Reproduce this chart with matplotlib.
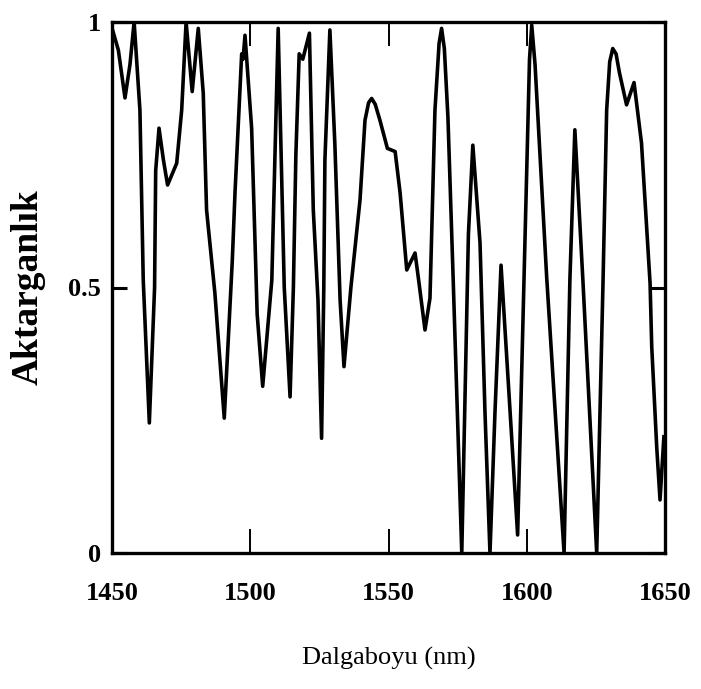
import matplotlib
matplotlib.use("Agg")
import matplotlib.pyplot as plt

# wavelength (nm) and transmittance
wavelength = [1450.2, 1452.3, 1454.7, 1456.5, 1458.0, 1460.1, 1461.3, 1463.5, 1465.4, 1465.8,
              1467.0, 1468.6, 1470.1, 1473.4, 1475.2, 1476.8, 1479.0, 1481.2, 1483.0, 1484.2,
              1487.2, 1490.6, 1493.5, 1494.5, 1496.9, 1497.4, 1498.1, 1500.5, 1502.5, 1504.5,
              1507.8, 1510.1, 1512.3, 1514.4, 1515.6, 1516.5, 1517.7, 1519.0, 1521.4, 1522.8,
              1524.5, 1525.8, 1526.6, 1527.0, 1528.8, 1530.6, 1532.5, 1533.9, 1536.4, 1539.7,
              1541.5, 1542.8, 1543.9, 1545.2, 1546.9, 1549.6, 1552.4, 1554.2, 1556.6, 1559.6,
              1561.0, 1563.2, 1565.0, 1566.8, 1568.3, 1569.2, 1570.2, 1571.5, 1573.4, 1576.5,
              1578.9, 1580.5, 1583.1, 1584.9, 1586.7, 1588.5, 1590.7, 1594.0, 1596.7, 1599.0,
              1601.0, 1601.8, 1603.0, 1607.2, 1613.5, 1615.6, 1617.4, 1620.3, 1625.3, 1627.6,
              1628.9, 1630.0, 1631.1, 1632.3, 1633.5, 1636.1, 1638.8, 1641.5, 1644.6, 1645.2,
              1647.0, 1648.2, 1649.6]
transmit = [0.985, 0.947, 0.857, 0.92, 1.0, 0.834, 0.514, 0.245, 0.5, 0.72,
            0.80, 0.74, 0.693, 0.734, 0.834, 1.0, 0.869, 0.988, 0.866, 0.646,
            0.49, 0.254, 0.55, 0.68, 0.94, 0.93, 0.975, 0.80, 0.45, 0.314,
            0.514, 0.988, 0.50, 0.294, 0.50, 0.75, 0.94, 0.93, 0.979, 0.646,
            0.476, 0.216, 0.50, 0.74, 0.985, 0.77, 0.476, 0.351, 0.50, 0.665,
            0.815, 0.848, 0.856, 0.845, 0.815, 0.762, 0.756, 0.678, 0.533, 0.565,
            0.51, 0.42, 0.48, 0.834, 0.96, 0.988, 0.95, 0.82, 0.514, 0.0,
            0.60, 0.768, 0.584, 0.264, 0.0, 0.264, 0.542, 0.264, 0.034, 0.514,
            0.93, 0.994, 0.92, 0.52, 0.0, 0.514, 0.797, 0.514, 0.0, 0.514,
            0.834, 0.925, 0.95, 0.94, 0.905, 0.844, 0.886, 0.772, 0.508, 0.389,
            0.2, 0.1, 0.219]

x_ticks = [1450, 1500, 1550, 1600, 1650]
y_ticks = [0, 0.5, 1]
y_tick_labels = ["0", "0.5", "1"]

plt.rcParams['font.family'] = ['Liberation Serif', 'DejaVu Serif']

fig = plt.figure(figsize=(7.01, 6.89), dpi=100)
ax = fig.add_axes([112 / 701, 136 / 689, 553 / 701, 531 / 689])

ax.plot(wavelength, transmit, color='black', linewidth=2.6)

ax.set_xlim(1450, 1650)
ax.set_ylim(0, 1)
ax.set_xticks(x_ticks)
ax.set_xticklabels([str(t) for t in x_ticks], fontweight='bold')
ax.set_yticks(y_ticks)
ax.set_yticklabels(y_tick_labels, fontweight='bold')

ax.tick_params(axis='x', direction='in', length=17, width=1.4, top=True,
               labelsize=19, pad=21)
ax.tick_params(axis='y', direction='in', length=11, width=2.2, right=True,
               labelsize=19, pad=8)
for s in ax.spines.values():
    s.set_linewidth(2.4)

ax.set_xlabel('Dalgaboyu (nm)', fontsize=19, labelpad=30)
ax.set_ylabel('Aktarganlık', fontsize=27, fontweight='bold', labelpad=16)

fig.savefig('out.png', dpi=100)
